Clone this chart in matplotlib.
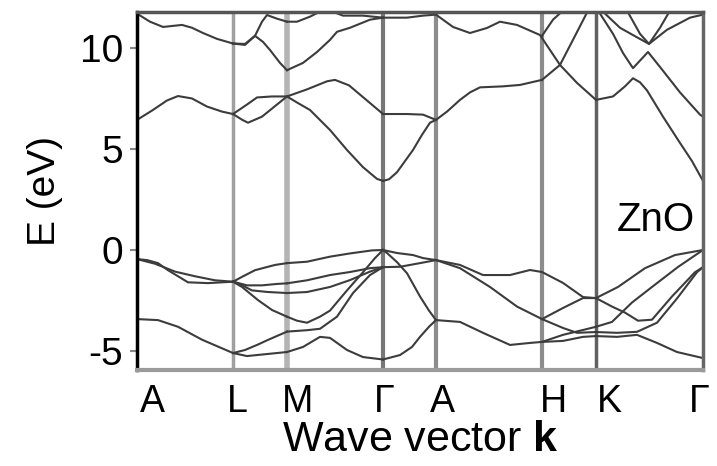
import matplotlib
matplotlib.use("Agg")
import matplotlib.pyplot as plt

plt.rcParams['font.family'] = ['Liberation Sans', 'DejaVu Sans']
plt.rcParams['mathtext.fontset'] = 'custom'
plt.rcParams['mathtext.rm'] = 'Liberation Sans'
plt.rcParams['mathtext.bf'] = 'Liberation Sans:bold'

# high-symmetry points along the path (arbitrary k units)
sym_names = ['A', 'L', 'M', 'Γ', 'A', 'H', 'K', 'Γ']
sym_k = [0, 96, 150, 246, 299, 405, 459, 566]
label_k = [15, 100, 161, 247, 305, 416, 472, 562]

# conduction bands, (k, E) in eV
cond_low = [
    [(0, 6.44), (15, 6.9), (30, 7.4), (41, 7.62), (55, 7.5), (70, 7.1), (85, 6.85), (96, 6.73)],
    [(96, 6.73), (110, 7.2), (120, 7.55), (135, 7.6), (150, 7.6)],
    [(96, 6.73), (105, 6.45), (111, 6.3), (125, 6.6), (140, 7.2), (150, 7.6)],
    [(150, 7.6), (170, 7.95), (190, 8.35), (198, 8.42), (212, 8.15), (230, 7.4), (246, 6.73)],
    [(150, 7.6), (160, 7.3), (173, 6.93), (193, 5.94), (210, 4.95), (226, 4.1), (240, 3.52), (246, 3.42)],
    [(246, 3.42), (252, 3.5), (260, 3.85), (268, 4.4), (276, 4.95), (285, 5.7), (293, 6.3), (299, 6.44)],
    [(246, 6.73), (270, 6.73), (286, 6.7), (299, 6.44)],
    [(299, 6.44), (310, 6.85), (323, 7.43), (333, 7.8), (343, 8.05), (366, 8.1), (383, 8.17), (405, 8.42)],
    [(405, 8.42), (423, 9.16), (437, 10.5), (450, 11.75), (456, 12.3)],
    [(459, 7.43), (476, 7.6), (488, 8.1), (496, 8.5), (503, 8.3), (510, 7.9), (526, 6.6),
     (543, 5.3), (555, 4.4), (566, 3.42)],
]

cond_high = [
    [(0, 11.7), (13, 11.3), (26, 11.04), (45, 11.14), (55, 11.0), (66, 10.74), (80, 10.45), (96, 10.22)],
    [(96, 10.22), (108, 10.2), (118, 10.6), (126, 10.3), (133, 9.9), (143, 9.26), (150, 8.9)],
    [(96, 10.22), (108, 10.15), (118, 10.6), (125, 11.3), (130, 11.63), (140, 11.45), (150, 11.3)],
    [(150, 8.9), (166, 9.26), (180, 9.8), (193, 10.4), (200, 10.8), (213, 11.0), (233, 11.4), (246, 11.5)],
    [(150, 11.3), (160, 11.3), (173, 11.55), (183, 11.8), (193, 11.85), (206, 11.6), (226, 11.6), (246, 11.5)],
    [(246, 11.5), (270, 11.5), (286, 11.6), (299, 11.65)],
    [(299, 11.65), (316, 11.04), (333, 10.74), (350, 10.99), (363, 11.3), (380, 11.14), (403, 10.64),
     (423, 9.16), (440, 8.27), (459, 7.43)],
    [(405, 10.6), (416, 11.4), (426, 11.85), (430, 12.2)],
    [(459, 12.2), (463, 11.7), (476, 10.7), (486, 9.75), (496, 9.0), (511, 9.8), (523, 9.06),
     (543, 7.8), (563, 6.7), (566, 6.6)],
    [(459, 12.2), (468, 11.7), (483, 11.0), (501, 10.5), (512, 10.2), (530, 10.9), (553, 11.5), (566, 11.65)],
    [(486, 12.1), (490, 11.85), (503, 10.7), (512, 10.2), (523, 11.0), (533, 11.85), (536, 12.1)],
]

# valence bands
val_top = [
    [(0, -0.45), (10, -0.5), (21, -0.65), (31, -1.0), (51, -1.6), (71, -1.64), (96, -1.57)],
    [(0, -0.45), (18, -0.68), (38, -1.07), (58, -1.3), (78, -1.5), (96, -1.57)],
    [(96, -1.57), (105, -1.33), (118, -1.0), (138, -0.74), (150, -0.65)],
    [(96, -1.57), (110, -1.75), (125, -1.75), (140, -1.68), (150, -1.65)],
    [(96, -1.57), (101, -1.65), (115, -2.0), (131, -2.08), (150, -2.13)],
    [(96, -1.57), (105, -1.83), (121, -2.48), (135, -2.97), (150, -3.3)],
    [(150, -0.65), (170, -0.58), (193, -0.33), (213, -0.17), (235, -0.02), (246, 0)],
    [(150, -1.65), (170, -1.5), (193, -1.24), (213, -1.09), (233, -0.9), (246, -0.85)],
    [(150, -2.13), (170, -2.08), (193, -1.83), (213, -1.49), (233, -1.07), (246, -0.85)],
    [(150, -3.3), (160, -3.5), (170, -3.6), (183, -3.3), (193, -3.0), (210, -2.0), (226, -1.1),
     (238, -0.4), (246, 0)],
    [(150, -4.04), (170, -3.97), (183, -3.9), (200, -3.3), (216, -2.13), (233, -1.24), (246, -0.85)],
    [(246, 0), (260, -0.15), (276, -0.25), (286, -0.4), (299, -0.5)],
    [(246, -0.85), (263, -0.83), (283, -0.65), (299, -0.5)],
    [(246, 0), (250, -0.15), (260, -0.6), (270, -1.15), (283, -2.3), (292, -3.0), (299, -3.47)],
    [(299, -0.5), (323, -0.74), (346, -1.24), (373, -1.24), (393, -0.99), (405, -1.09), (426, -1.63),
     (446, -2.33), (459, -2.38)],
    [(299, -0.5), (323, -0.9), (353, -1.83), (380, -2.8), (405, -3.42)],
    [(405, -3.42), (426, -2.87), (446, -2.38), (459, -2.38)],
    [(459, -2.38), (481, -1.83), (508, -0.9), (538, -0.25), (566, 0)],
    [(459, -3.8), (475, -3.56), (495, -2.6), (515, -1.83), (541, -0.84), (566, 0)],
    [(459, -2.38), (475, -2.8), (488, -3.1), (501, -3.5), (515, -3.45), (535, -2.3), (558, -1.1), (566, -0.85)],
    [(459, -4.06), (480, -4.1), (500, -4.05), (520, -3.6), (540, -2.4), (560, -1.1), (566, -0.85)],
]

val_low = [
    [(0, -3.42), (21, -3.47), (41, -3.8), (65, -4.44), (88, -4.93), (96, -5.1)],
    [(96, -5.1), (108, -4.95), (120, -4.7), (131, -4.45), (150, -4.04)],
    [(96, -5.1), (110, -5.25), (130, -5.15), (150, -5.05)],
    [(150, -5.05), (166, -4.8), (183, -4.3), (193, -4.35), (210, -4.95), (226, -5.3), (246, -5.42)],
    [(246, -5.42), (263, -5.2), (275, -4.8), (283, -4.3), (292, -3.8), (299, -3.47)],
    [(299, -3.47), (323, -3.56), (346, -4.1), (373, -4.7), (393, -4.6), (405, -4.55), (426, -4.2),
     (446, -3.96), (459, -3.8)],
    [(405, -3.42), (426, -3.86), (440, -4.1), (459, -4.06)],
    [(405, -4.55), (426, -4.5), (446, -4.3), (459, -4.26)],
    [(459, -4.26), (480, -4.3), (500, -4.2), (520, -4.6), (540, -5.05), (566, -5.35)],
]

line_colors = ['#a0a0a0', '#b4b4b4', '#777777', '#8c8c8c', '#8c8c8c', '#606060']
line_widths = [2.5, 4, 3, 3, 3, 2.5]

fig = plt.figure(figsize=(7.17, 4.66), dpi=100)
ax = fig.add_axes([137 / 717, 1 - 370 / 466, 566 / 717, 358 / 466])

for k, c, w in zip(sym_k[1:-1], line_colors, line_widths):
    ax.axvline(k, color=c, lw=w, zorder=1)

for band in cond_low + cond_high + val_top + val_low:
    ks = [p[0] for p in band]
    es = [p[1] for p in band]
    ax.plot(ks, es, color='#3c3c3c', lw=1.5, zorder=2)

ax.set_xlim(sym_k[0], sym_k[-1])
ax.set_ylim(-5.94, 11.78)

ax.set_yticks([-5, 0, 5, 10])
ax.set_yticklabels(['-5', '0', '5', '10'])
ax.set_xticks(label_k)
ax.set_xticklabels(sym_names)
ax.tick_params(axis='y', length=5, width=1.5, color='#888888', pad=5, labelsize=28)
ax.tick_params(axis='x', length=0, pad=10, labelsize=27)

ax.spines['left'].set_color('black')
ax.spines['left'].set_linewidth(2.5)
ax.spines['bottom'].set_color('#9a9a9a')
ax.spines['bottom'].set_linewidth(3)
ax.spines['top'].set_color('#555555')
ax.spines['top'].set_linewidth(2.5)
ax.spines['right'].set_color('#666666')
ax.spines['right'].set_linewidth(2.5)

ax.set_ylabel('E (eV)', fontsize=28, labelpad=12)
ax.set_xlabel(r'Wave vector $\mathbf{k}$', fontsize=31, labelpad=0)

ax.text(0.985, 0.42, 'ZnO', transform=ax.transAxes, ha='right', va='center', fontsize=29)

fig.savefig('out.png', dpi=100)
